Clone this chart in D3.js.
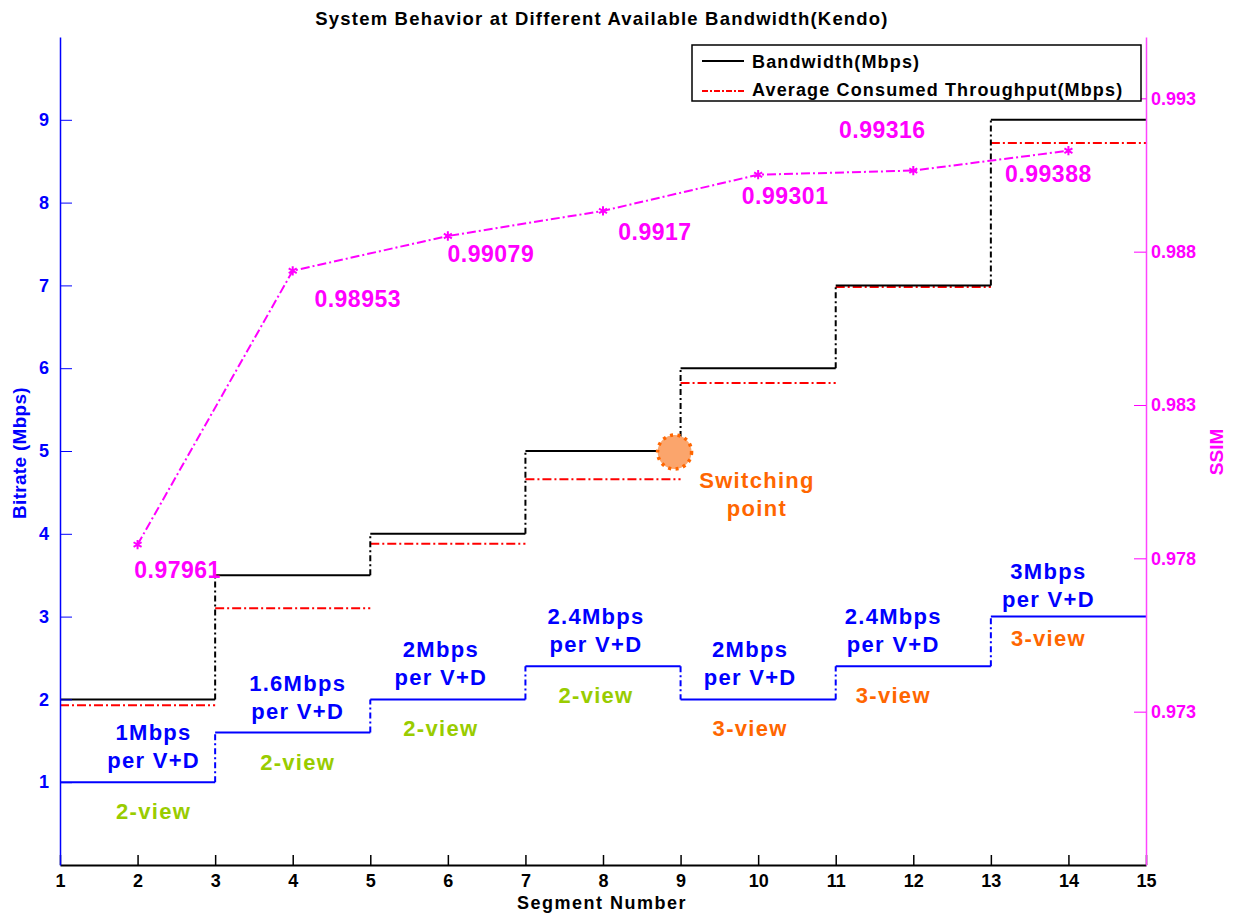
<!DOCTYPE html>
<html>
<head>
<meta charset="utf-8">
<script src="https://cdn.jsdelivr.net/npm/d3@7"></script>
<style>
  body { margin: 0; background: #fff; }
  svg { display: block; font-family: "Liberation Sans", Arial, sans-serif; font-weight: bold; }
</style>
</head>
<body>
<svg id="chart" width="1236" height="919"></svg>
<script>
// segment boundaries and step values
const segEdges = [1, 3, 5, 7, 9, 11, 13, 15];
const bandwidth = [2, 3.5, 4, 5, 6, 7, 9];
const avgThroughput = [1.93, 3.10, 3.88, 4.66, 5.82, 6.98, 8.72];
const perViewRate = [1, 1.6, 2, 2.4, 2, 2.4, 3];
const rateLabels = ["1Mbps", "1.6Mbps", "2Mbps", "2.4Mbps", "2Mbps", "2.4Mbps", "3Mbps"];
const viewLabels = ["2-view", "2-view", "2-view", "2-view", "3-view", "3-view", "3-view"];

// SSIM points
const ssimSegments = [2, 4, 6, 8, 10, 12, 14];
const ssimValues = [0.97961, 0.98953, 0.99079, 0.9917, 0.99301, 0.99316, 0.99388];

const xTicks = d3.range(1, 16);
const bitrateTicks = [1, 2, 3, 4, 5, 6, 7, 8, 9];
const ssimTicks = [0.973, 0.978, 0.983, 0.988, 0.993];

// annotation nudges (px) - layout only
const rateLabelDx = [16, 5, -7, -7, -8, -20, -20];
const ssimLabelOff = [[40, 33], [65, 36], [43, 26], [52, 29], [27, 29], [-31, -33], [-20, 31]];

const blue = "#0000ff", magenta = "#ff00ff", green = "#99cc00", orange = "#ff6600";

const svg = d3.select("#chart");
const x = d3.scaleLinear().domain([1, 15]).range([60, 1146]);
const y = d3.scaleLinear().domain([0, 10]).range([865, 37]);
const ssimAxisScale = d3.scaleLinear().domain([0.968, 0.995]).range([865, 37]);
const ssimLineScale = d3.scaleLinear().domain([0.968, 0.998]).range([865, 37]);

// steps: horizontal solid, vertical dash-dot
function drawSteps(values, color, dash, withRisers) {
  let g = svg.append("g");
  g.selectAll("line.h").data(values).enter().append("line")
    .attr("class", "h")
    .attr("x1", (d, i) => x(segEdges[i]))
    .attr("x2", (d, i) => x(segEdges[i + 1]))
    .attr("y1", d => y(d)).attr("y2", d => y(d))
    .attr("stroke", color).attr("stroke-width", 2)
    .attr("stroke-dasharray", dash);
  if (withRisers) {
    g.selectAll("line.v").data(values.slice(1)).enter().append("line")
      .attr("class", "v")
      .attr("x1", (d, i) => x(segEdges[i + 1]))
      .attr("x2", (d, i) => x(segEdges[i + 1]))
      .attr("y1", (d, i) => y(values[i]))
      .attr("y2", d => y(d))
      .attr("stroke", color).attr("stroke-width", 2)
      .attr("stroke-dasharray", "6,3,2,3");
  }
}

drawSteps(avgThroughput, "#ff0000", "9,3,2,3", false);
drawSteps(bandwidth, "#000", null, true);
drawSteps(perViewRate, blue, null, true);

// axes
const fontSize = "18px";
let gx = svg.append("g").attr("transform", "translate(0,865)")
  .call(d3.axisBottom(x).tickValues(xTicks).tickSize(-10).tickSizeOuter(0).tickPadding(9));
gx.select(".domain").attr("stroke", "#000").attr("stroke-width", 2);
gx.selectAll(".tick line").attr("stroke", "#000").attr("stroke-width", 1.5);
gx.selectAll("text").attr("fill", "#000").style("font-size", fontSize).style("font-family", "inherit");

let gy = svg.append("g").attr("transform", "translate(60,0)")
  .call(d3.axisLeft(y).tickValues(bitrateTicks).tickSize(-12).tickSizeOuter(0).tickPadding(11));
gy.select(".domain").attr("stroke", blue).attr("stroke-width", 1.5);
gy.selectAll(".tick line").attr("stroke", blue).attr("stroke-width", 1);
gy.selectAll("text").attr("fill", blue).style("font-size", fontSize).style("font-family", "inherit");

let gs = svg.append("g").attr("transform", "translate(1146,0)")
  .call(d3.axisRight(ssimAxisScale).tickValues(ssimTicks).tickFormat(d3.format(".3f"))
    .tickSize(-12).tickSizeOuter(0).tickPadding(5));
gs.select(".domain").attr("stroke", "#ff44ff").attr("stroke-width", 1.5);
gs.selectAll(".tick line").attr("stroke", magenta).attr("stroke-width", 1);
gs.selectAll("text").attr("fill", magenta).style("font-size", fontSize).style("font-family", "inherit");

// SSIM line
const ssimPts = ssimSegments.map((s, i) => [x(s), ssimLineScale(ssimValues[i])]);
svg.append("path")
  .attr("d", d3.line()(ssimPts))
  .attr("fill", "none").attr("stroke", magenta).attr("stroke-width", 2)
  .attr("stroke-dasharray", "9,3,2,3");
const asterisk = d3.symbolAsterisk || d3.symbolCross;
svg.selectAll("path.mk").data(ssimPts).enter().append("path")
  .attr("class", "mk")
  .attr("transform", d => `translate(${d[0]},${d[1]})`)
  .attr("d", d3.symbol(asterisk, 60))
  .attr("fill", "none").attr("stroke", magenta).attr("stroke-width", 2);
svg.selectAll("text.ssim").data(ssimValues).enter().append("text")
  .attr("class", "ssim")
  .attr("x", (d, i) => ssimPts[i][0] + ssimLabelOff[i][0])
  .attr("y", (d, i) => ssimPts[i][1] + ssimLabelOff[i][1])
  .attr("text-anchor", "middle").attr("fill", magenta)
  .style("font-size", "23px").style("letter-spacing", "0.5px")
  .text(d => String(d));

// rate / view annotations
const mid = (i) => x((segEdges[i] + segEdges[i + 1]) / 2) + rateLabelDx[i];
const lastDy = (i) => i === 6 ? 4 : 0;
let ann = svg.append("g").style("font-size", "22px").style("letter-spacing", "1.3px")
  .attr("text-anchor", "middle");
ann.selectAll("text.rate").data(perViewRate).enter().append("text")
  .attr("x", (d, i) => mid(i)).attr("y", (d, i) => y(d) - 42 + lastDy(i))
  .attr("fill", blue).text((d, i) => rateLabels[i]);
ann.selectAll("text.per").data(perViewRate).enter().append("text")
  .attr("x", (d, i) => mid(i)).attr("y", (d, i) => y(d) - 14 + lastDy(i))
  .attr("fill", blue).text("per V+D");
ann.selectAll("text.view").data(perViewRate).enter().append("text")
  .attr("x", (d, i) => mid(i)).attr("y", (d, i) => y(d) + (i === 6 ? 29 : 37))
  .attr("fill", (d, i) => viewLabels[i].startsWith("3") ? orange : green)
  .text((d, i) => viewLabels[i]);

// switching point
svg.append("circle")
  .attr("cx", x(9) - 6).attr("cy", y(bandwidth[3]) + 1).attr("r", 17)
  .attr("fill", "#fba56c").attr("stroke", orange).attr("stroke-width", 3.5)
  .attr("stroke-dasharray", "3,4.5");
let sw = svg.append("text").attr("text-anchor", "middle").attr("fill", orange)
  .style("font-size", "22px").style("letter-spacing", "1.3px");
sw.append("tspan").attr("x", 757).attr("y", 488).text("Switching");
sw.append("tspan").attr("x", 757).attr("y", 516).text("point");

// legend
let lg = svg.append("g");
lg.append("rect").attr("x", 692).attr("y", 45).attr("width", 449).attr("height", 56)
  .attr("fill", "#fff").attr("stroke", "#000").attr("stroke-width", 1.5);
lg.append("line").attr("x1", 702).attr("x2", 744).attr("y1", 61).attr("y2", 61)
  .attr("stroke", "#000").attr("stroke-width", 2);
lg.append("line").attr("x1", 702).attr("x2", 744).attr("y1", 91).attr("y2", 91)
  .attr("stroke", "#ff0000").attr("stroke-width", 2).attr("stroke-dasharray", "6,2,2,2");
lg.append("text").attr("x", 752).attr("y", 68).attr("fill", "#000")
  .style("font-size", "18px").style("letter-spacing", "1.15px").text("Bandwidth(Mbps)");
lg.append("text").attr("x", 752).attr("y", 96).attr("fill", "#000")
  .style("font-size", "18px").style("letter-spacing", "1.15px").text("Average Consumed Throughput(Mbps)");

// titles
svg.append("text").attr("x", 602).attr("y", 25).attr("text-anchor", "middle")
  .style("font-size", "18.5px").style("letter-spacing", "1.2px")
  .text("System Behavior at Different Available Bandwidth(Kendo)");
svg.append("text").attr("x", 602).attr("y", 909).attr("text-anchor", "middle")
  .style("font-size", "18px").style("letter-spacing", "1.5px")
  .text("Segment Number");
svg.append("text").attr("transform", "translate(26,453) rotate(-90)")
  .attr("text-anchor", "middle").attr("fill", blue)
  .style("font-size", "19px").style("letter-spacing", "0.3px")
  .text("Bitrate (Mbps)");
svg.append("text").attr("transform", "translate(1223,452) rotate(-90)")
  .attr("text-anchor", "middle").attr("fill", magenta)
  .style("font-size", "19px")
  .text("SSIM");
</script>
</body>
</html>
